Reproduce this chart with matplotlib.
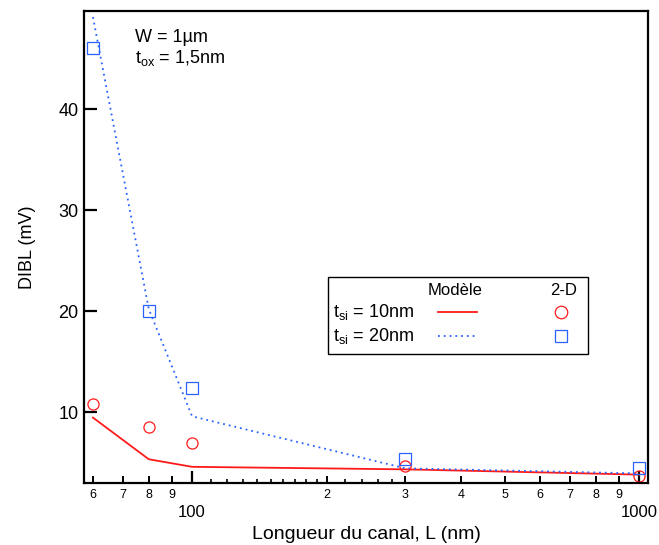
import matplotlib
matplotlib.use("Agg")
import matplotlib.pyplot as plt
from matplotlib.ticker import FixedLocator, FixedFormatter
from matplotlib.lines import Line2D
from matplotlib.patches import Rectangle

plt.rcParams['font.family'] = ['Liberation Sans', 'DejaVu Sans']
plt.rcParams['mathtext.fontset'] = 'custom'
plt.rcParams['mathtext.rm'] = 'Liberation Sans'
plt.rcParams['mathtext.it'] = 'Liberation Sans'

# Data
L_nm = [60, 80, 100, 300, 1000]
model_10 = [9.47, 5.35, 4.6, 4.35, 3.83]
model_20 = [49.1, 20.2, 9.6, 4.45, 3.95]
sim_10 = [10.8, 8.55, 7.0, 4.65, 3.7]
sim_20 = [46.0, 20.0, 12.4, 5.35, 4.45]

major_ticks = [100, 1000]
major_labels = ["100", "1000"]
minor_ticks = [60, 70, 80, 90, 200, 300, 400, 500, 600, 700, 800, 900]
minor_labels = ["6", "7", "8", "9", "2", "3", "4", "5", "6", "7", "8", "9"]
sub_ticks = [110, 120, 130, 140, 150, 160, 170, 180, 190, 220, 240, 260, 280]
y_ticks = [10, 20, 30, 40]

red = '#ff1a1a'
blue = '#2a62ff'

fig = plt.figure(figsize=(6.59, 5.45), dpi=100)
ax = fig.add_axes([84/659, 1-483/545, 564/659, 472/545])

ax.plot(L_nm, model_10, color=red, lw=1.3)
ax.plot(L_nm, model_20, color=blue, lw=1.3, linestyle=(0, (1, 2.2)))
ax.plot(L_nm, sim_10, linestyle='none', marker='o', ms=8, mfc='none', mec=red, mew=0.9, clip_on=False)
ax.plot(L_nm, sim_20, linestyle='none', marker='s', ms=8, mfc='none', mec=blue, mew=0.9, clip_on=False)

ax.set_xscale('log')
ax.set_xlim(57.3, 1047)
ax.set_ylim(3.0, 49.7)

all_minor = minor_ticks + sub_ticks
all_minor_labels = minor_labels + [""] * len(sub_ticks)
ax.xaxis.set_major_locator(FixedLocator(major_ticks))
ax.xaxis.set_major_formatter(FixedFormatter(major_labels))
ax.xaxis.set_minor_locator(FixedLocator(all_minor))
ax.xaxis.set_minor_formatter(FixedFormatter(all_minor_labels))
ax.set_yticks(y_ticks)
ax.set_yticklabels([str(v) for v in y_ticks])

for s in ax.spines.values():
    s.set_linewidth(1.6)

ax.tick_params(axis='x', which='major', direction='in', length=9, width=1.6, pad=16, labelsize=12)
ax.tick_params(axis='x', which='minor', direction='in', length=5, width=1.4, pad=4, labelsize=9)
ax.tick_params(axis='y', which='major', direction='in', length=9, width=1.6, pad=4, labelsize=13)
ax.tick_params(axis='y', which='minor', left=False)

# shorter sub-minor ticks
for t in ax.xaxis.get_minor_ticks(len(all_minor))[len(minor_ticks):]:
    t.tick1line.set_markersize(3)
    t.tick1line.set_markeredgewidth(1.2)

ax.set_xlabel("Longueur du canal, L (nm)", fontsize=14, labelpad=4)
ax.set_ylabel("DIBL (mV)", fontsize=13, labelpad=16)

ax.text(0.090, 0.943, "W = 1µm", transform=ax.transAxes, fontsize=13, va='center', ha='left')
ax.text(0.090, 0.900, r"$\mathregular{t_{ox}}$ = 1,5nm", transform=ax.transAxes, fontsize=13, va='center', ha='left')

# Legend box (manual)
x0, x1, y0, y1 = 0.4326, 0.8936, 0.2733, 0.4364
ax.add_patch(Rectangle((x0, y0), x1 - x0, y1 - y0, transform=ax.transAxes,
                       fill=False, ec='black', lw=1.0, zorder=5))
ax.text(0.658, 0.407, "Modèle", transform=ax.transAxes, fontsize=12, ha='center', va='center')
ax.text(0.851, 0.407, "2-D", transform=ax.transAxes, fontsize=12, ha='center', va='center')
ax.text(0.441, 0.362, r"$\mathregular{t_{si}}$ = 10nm", transform=ax.transAxes, fontsize=13, ha='left', va='center')
ax.text(0.441, 0.311, r"$\mathregular{t_{si}}$ = 20nm", transform=ax.transAxes, fontsize=13, ha='left', va='center')
ax.add_line(Line2D([0.628, 0.697], [0.362, 0.362], transform=ax.transAxes, color=red, lw=1.3))
ax.add_line(Line2D([0.628, 0.697], [0.311, 0.311], transform=ax.transAxes, color=blue, lw=1.3, linestyle=(0, (1, 2.2))))
ax.add_line(Line2D([0.846], [0.362], transform=ax.transAxes, marker='o', ms=9, mfc='none', mec=red, mew=0.9))
ax.add_line(Line2D([0.846], [0.311], transform=ax.transAxes, marker='s', ms=9, mfc='none', mec=blue, mew=0.9))

fig.savefig("out.png", dpi=100)
